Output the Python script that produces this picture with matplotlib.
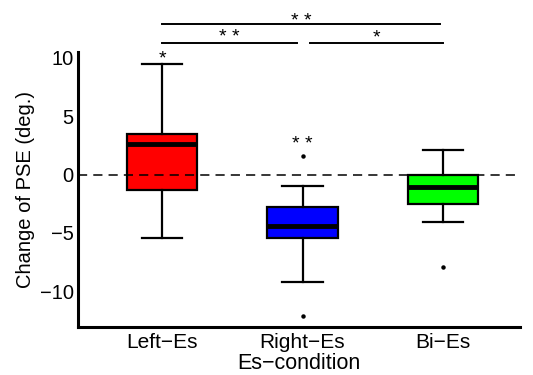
import matplotlib.pyplot as plt

# data
conditions = ["Left\u2212Es", "Right\u2212Es", "Bi\u2212Es"]
colors = ["#ff0000", "#0000ff", "#00ff00"]
whis_lo = [-5.4, -9.2, -4.1]
q1 = [-1.3, -5.4, -2.55]
medians = [2.6, -4.45, -1.1]
q3 = [3.5, -2.8, 0.0]
whis_hi = [9.5, -0.95, 2.1]
outliers = [[], [1.6, -12.1], [-7.9]]

# significance marks: (x, y, label)
single_marks = [(1, 9.15, "*"), (2, 1.85, "* *")]
# pairwise bars: (x1, x2, y, label)
pair_bars = [(1, 1.96, 11.3, "* *"), (2.05, 3.0, 11.3, "*"), (1, 2.98, 12.9, "* *")]

plt.rcParams['font.family'] = ['Liberation Sans', 'DejaVu Sans']

stats = []
for i in range(len(conditions)):
    stats.append(dict(med=medians[i], q1=q1[i], q3=q3[i],
                      whislo=whis_lo[i], whishi=whis_hi[i],
                      fliers=outliers[i], label=conditions[i]))

fig = plt.figure(figsize=(5.33, 3.75), dpi=100)
ax = fig.add_axes([0.146, 0.127, 0.83, 0.734])

bp = ax.bxp(stats, positions=[1, 2, 3], widths=0.5, capwidths=0.29,
            patch_artist=True,
            boxprops=dict(linewidth=1.6, edgecolor='black'),
            medianprops=dict(color='black', linewidth=3.5, solid_capstyle='butt'),
            whiskerprops=dict(color='black', linewidth=1.6),
            capprops=dict(color='black', linewidth=1.6),
            flierprops=dict(marker='o', markersize=2.2, markerfacecolor='black',
                            markeredgecolor='black'))
for patch, c in zip(bp['boxes'], colors):
    patch.set_facecolor(c)

ax.axhline(0, color='black', linestyle=(0, (6, 4)), linewidth=1.1, zorder=5)

ax.set_xlim(0.4, 3.55)
ax.set_ylim(-13.1, 10.5)
ax.set_yticks([-10, -5, 0, 5, 10])
ax.tick_params(axis='both', length=0)
ax.tick_params(axis='y', pad=3, labelsize=14.5)
ax.tick_params(axis='x', pad=4, labelsize=15)

for s in ['top', 'right']:
    ax.spines[s].set_visible(False)
for s in ['left', 'bottom']:
    ax.spines[s].set_linewidth(2.2)

ax.set_xlabel("Es\u2212condition", fontsize=15.5, labelpad=0.5)
ax.set_ylabel("Change of PSE (deg.)", fontsize=14.5, labelpad=3)

for x, y, lab in single_marks:
    ax.text(x, y, lab, ha='center', va='bottom', fontsize=14, clip_on=False)
for i, (x1, x2, y, lab) in enumerate(pair_bars):
    ax.plot([x1, x2], [y, y], color='black', linewidth=1.4, clip_on=False)
    off = -0.5 if i == 2 else -0.3
    ax.text((x1 + x2) / 2, y + off, lab, ha='center', va='bottom', fontsize=14,
            clip_on=False)

fig.savefig("out.png", dpi=100)
